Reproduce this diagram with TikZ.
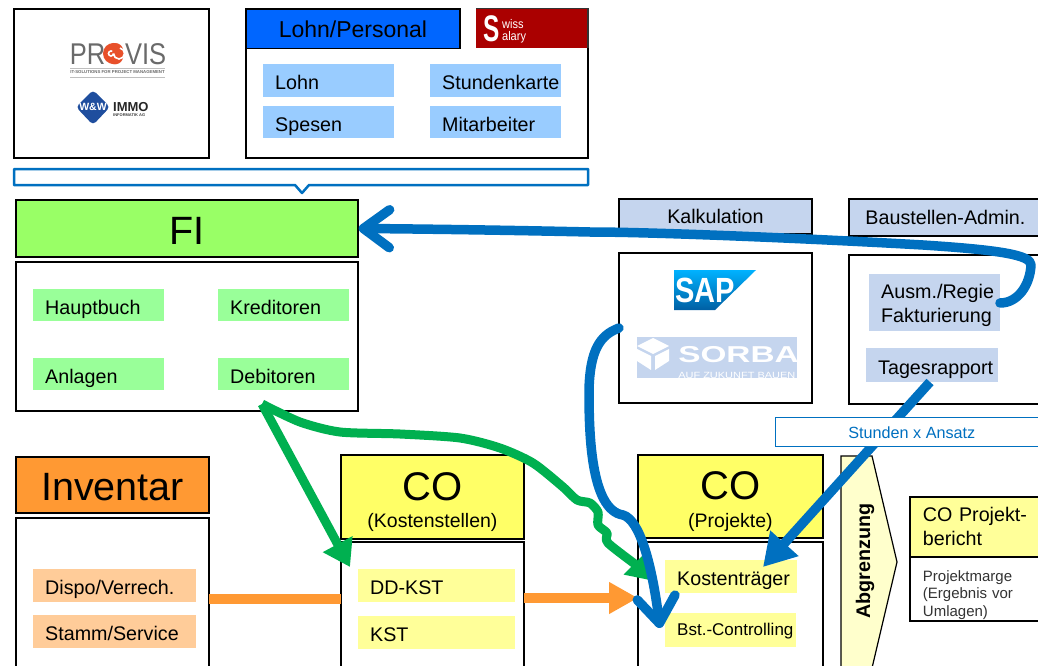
\documentclass[tikz,border=0pt]{standalone}
\usepackage{fontspec}
\setmainfont{Liberation Sans}
\usetikzlibrary{arrows.meta,shapes.geometric}
\definecolor{hdrblue}{HTML}{0066FF}
\definecolor{swissred}{HTML}{AA0000}
\definecolor{itemblue}{HTML}{99CCFF}
\definecolor{flow}{HTML}{0070C0}
\definecolor{figreen}{HTML}{99FF66}
\definecolor{itemgreen}{HTML}{99FF99}
\definecolor{paleblue}{HTML}{C5D5EE}
\definecolor{invorange}{HTML}{FF9933}
\definecolor{itemorange}{HTML}{FFCC99}
\definecolor{coyellow}{HTML}{FFFF66}
\definecolor{itemyellow}{HTML}{FFFF99}
\definecolor{paleyellow}{HTML}{FFFFCC}
\definecolor{flowgreen}{HTML}{00B050}
\definecolor{logogrey}{HTML}{6A6A6A}
\definecolor{logoorange}{HTML}{E8502A}
\definecolor{wwblue}{HTML}{1F4E9E}
\tikzset{
  x=1pt,y=-1pt,
  panel/.style={draw=black,line width=1.5pt,fill=white},
  sized/.style 2 args={anchor=north west,minimum width=#1,minimum height=#2,inner sep=0pt,xshift=-.8pt,yshift=.8pt},
  txt/.style={font=\fontsize{19.7}{24}\selectfont},
  big/.style={font=\fontsize{39.5}{44}\selectfont,text height=31.5pt,text depth=0pt},
  item/.style 2 args={anchor=north west,minimum height=#2,minimum width=#1,text width=#1-24,inner xsep=12pt,inner ysep=0pt,align=left,text height=18pt,text depth=0pt,font=\fontsize{19.7}{24}\selectfont},
  flowline/.style={draw=flow,line width=9.5pt,line cap=round,line join=round},
  vhead/.style={-{Straight Barb[length=26pt,width=38pt,round]}},
  greenline/.style={draw=flowgreen,line width=9pt,line join=round},
  ghead/.style={-{Triangle[length=26pt,width=32pt]}},
  orangeline/.style={draw=invorange,line width=10pt},
}
\begin{document}
\begin{tikzpicture}
\useasboundingbox (0,0) rectangle (1038,666);
\clip (0,0) rectangle (1038,666);

% logo panel
\node[panel,sized={195}{149}] (logos) at (14,9) {};
\fill[logoorange] (113.5,53.5) circle (10.5);
\node[font=\fontsize{30}{32}\selectfont,text=logogrey,xscale=.85,inner sep=0pt] (provis) at (118,54) {PR{\color{logoorange}O}VIS};
\draw[white,line width=1.6pt] (113.5,53.5) arc (0:300:2.5) (113.5,53.5) arc (180:-80:5.5);
\draw[lightgray,line width=.6pt] (70,68) -- (165,68) (70,77) -- (165,77);
\node[font=\fontsize{4.3}{5}\selectfont\bfseries,text=logogrey,inner sep=0pt] (tagline) at (117.5,72.5) {IT-SOLUTIONS FOR PROJECT MANAGEMENT};
\fill[wwblue,rounded corners=4pt] (93,90) -- (110,107) -- (93,125) -- (76,107) -- cycle;
\node[font=\fontsize{10.5}{12}\selectfont\bfseries,text=white,inner sep=0pt] (ww) at (93,107) {W\&W};
\node[font=\fontsize{13}{14}\selectfont\bfseries,anchor=west,inner sep=0pt,text=black!85] (immo) at (113,107) {IMMO};
\node[font=\fontsize{4}{5}\selectfont\bfseries,anchor=west,inner sep=0pt,text=black!75] (inf) at (113,115.5) {INFORMATIK AG};

% Lohn / Personal
\node[panel,sized={342}{149}] (lohnbox) at (246,9) {};
\node[draw=black,line width=1.5pt,fill=hdrblue,sized={214}{39},font=\fontsize{23}{26}\selectfont] (lohnhdr) at (246,9.5) {Lohn/Personal};
\fill[white] (461,8) rectangle (476,47);
\fill[swissred] (476,9) rectangle (588,48);
\draw[black!80,line width=1.2pt] (476,8.6) -- (588,8.6) -- (588,48);
\node[font=\fontsize{37}{38}\selectfont\bfseries,text=white,xscale=.66,inner sep=0pt] (swisss) at (492,29) {S};
\node[font=\fontsize{12.5}{13}\selectfont,text=white,anchor=west,inner sep=0pt,xscale=.88] (wiss) at (502,24) {wiss};
\node[font=\fontsize{12.5}{13}\selectfont,text=white,anchor=west,inner sep=0pt,xscale=.88] (alary) at (502,37.5) {alary};
\node[item={131}{33},fill=itemblue] (lohn) at (263,64) {Lohn};
\node[item={131}{32},fill=itemblue] (spesen) at (263,106) {Spesen};
\node[item={131}{33},fill=itemblue] (stunden) at (430,64) {Stundenkarte};
\node[item={131}{32},fill=itemblue] (mitarb) at (430,106) {Mitarbeiter};

% callout
\draw[flow,line width=2.5pt,line join=round,fill=white] (14,169) -- (588,169) -- (588,185) -- (309,185) -- (302,193) -- (295,185) -- (14,185) -- cycle;

% FI
\node[draw=black,line width=1.5pt,fill=figreen,sized={342}{57},big] (fi) at (16,200) {FI};
\node[panel,sized={342}{149}] (fibox) at (16,262) {};
\node[item={131}{32},fill=itemgreen] (haupt) at (33,289) {Hauptbuch};
\node[item={131}{32},fill=itemgreen] (kred) at (218,289) {Kreditoren};
\node[item={131}{32},fill=itemgreen] (anl) at (33,358) {Anlagen};
\node[item={131}{32},fill=itemgreen] (deb) at (218,358) {Debitoren};

% Kalkulation
\node[draw=black,line width=1.5pt,fill=paleblue,sized={193}{35},txt] (kalk) at (619,199) {Kalkulation};
\node[panel,sized={193}{150}] (kalkbox) at (619,253) {};
\shade[top color=cyan!70!blue,bottom color=flow!85!black] (674,270) -- (756,270) -- (715,310) -- (674,310) -- cycle;
\node[font=\fontsize{35}{36}\selectfont\bfseries,text=white,inner sep=0pt,xscale=.83] (sap) at (705,290) {SAP};
\fill[paleblue] (637,337) rectangle (797,378);
\fill[white] (653,338) -- (669,346) -- (653,354) -- (637,346) -- cycle;
\fill[white] (637,349) -- (651,356) -- (651,370) -- (637,361) -- cycle;
\fill[white] (655,356) -- (669,349) -- (669,361) -- (655,370) -- cycle;
\node[font=\fontsize{23}{24}\selectfont\bfseries,text=white,anchor=west,inner sep=0pt,xscale=1.45] (sorba) at (678,355) {SORBA};
\node[font=\fontsize{9}{10}\selectfont,text=white,anchor=west,inner sep=0pt,xscale=1.22] (auf) at (678,375) {AUF ZUKUNFT BAUEN};

% Baustellen-Admin
\node[draw=black,line width=1.5pt,fill=paleblue,sized={196}{37},txt,text width=175,inner xsep=10.5pt,align=left] (baust) at (849,199) {\hspace*{6pt}Baustellen-Admin.};
\node[panel,sized={196}{149}] (baustbox) at (849,255) {};
\node[item={131}{57},fill=paleblue,text height=14pt,text depth=22pt] (ausm) at (869,274) {Ausm./Regie\\Fakturierung};
\node[item={132}{34},fill=paleblue] (tages) at (866,348) {Tagesrapport};

% Inventar
\node[draw=black,line width=1.5pt,fill=invorange,sized={193}{56},big] (inv) at (16,457) {Inventar};
\node[panel,sized={193}{170}] (invbox) at (16,518) {};
\node[item={163}{33},fill=itemorange] (dispo) at (33,569) {Dispo/Verrech.};
\node[item={163}{33},fill=itemorange] (stamm) at (33,615) {Stamm/Service};

% CO Kostenstellen
\node[draw=black,line width=1.5pt,fill=coyellow,sized={183}{84},align=center] (cok) at (341,455) {\fontsize{40}{40}\selectfont\rule{0pt}{38pt}CO\\[12pt]\fontsize{19.5}{22}\selectfont (Kostenstellen)};
\node[panel,sized={183}{150}] (cokbox) at (341,542) {};
\node[item={157}{33},fill=itemyellow] (ddkst) at (358,569) {DD-KST};
\node[item={157}{33},fill=itemyellow] (kst) at (358,616) {KST};

% CO Projekte
\node[draw=black,line width=1.5pt,fill=coyellow,sized={185}{83},align=center] (cop) at (638,455) {\fontsize{40}{40}\selectfont\rule{0pt}{38pt}CO\\[12pt]\fontsize{19.5}{22}\selectfont (Projekte)};
\node[panel,sized={185}{150}] (copbox) at (638,542) {};
\node[item={132}{33},fill=itemyellow] (ktr) at (665,560) {Kostenträger};
\node[item={131}{34},fill=itemyellow,font=\fontsize{17}{20}\selectfont,text height=10pt] (bst) at (665,613) {\mbox{Bst.-Controlling}};

% Abgrenzung
\draw[black,line width=1.2pt,fill=paleyellow] (841,456) -- (872,456) -- (897,562) -- (872,668) -- (841,668) -- cycle;
\node[rotate=90,font=\fontsize{19.7}{22}\selectfont\bfseries,inner sep=0pt] (abgr) at (865,561) {Abgrenzung};

% Projektbericht
\node[draw=black,line width=1.5pt,fill=itemyellow,anchor=north west,minimum width=135,minimum height=60,text width=121,inner xsep=13pt,inner ysep=0pt,align=left,txt,xshift=-.8pt,yshift=.8pt] (ber) at (910,497) {CO Projekt-\\bericht};
\node[draw=black,line width=1.5pt,fill=white,anchor=north west,minimum width=135,minimum height=64,text width=121,inner xsep=13pt,inner ysep=0pt,align=left,font=\fontsize{15}{17.8}\selectfont,text=black!80,xshift=-.8pt,yshift=.8pt] (marge) at (910,557) {\rule{0pt}{23pt}Projektmarge\\(Ergebnis vor\\Umlagen)};

% connector end points
\coordinate (debout) at (262,404);
\coordinate (ddin) at (350,567);
\coordinate (ktin) at (654,581);
\coordinate (invout) at (209,599);
\coordinate (cokin) at (341,599);
\coordinate (cokout) at (524,598);
\coordinate (copin) at (638,598);
\coordinate (ausmout) at (1000,303);
\coordinate (kalkout) at (619,328);
\coordinate (bstin) at (660,628);
\coordinate (tagout) at (930,382);
\coordinate (ktrin) at (763,567);

% connectors
\draw[orangeline] (invout) -- (cokin);
\draw[orangeline,-{Triangle[length=29pt,width=30pt]}] (cokout) -- (copin);
\draw[greenline,ghead] (debout) -- (ddin);
\draw[greenline,ghead] plot[smooth,tension=.45] coordinates {(debout) (300,422) (340,432) (400,434) (460,438) (500,448) (533,463) (563,487) (577,500) (590,503) (598,512) (598,525) (607,533) (608,543) (640,568) (ktin)};
\draw[flowline,vhead] (kalkout) .. controls (600,335) and (590,350) .. (589,390) .. controls (589,430) and (590,510) .. (623,515) .. controls (640,520) and (652,565) .. (bstin);
\draw[flowline,vhead] (ausmout) .. controls (1018,303) and (1030,285) .. (1031,265) .. controls (1031,255) and (1000,250) .. (923,245) .. controls (800,238) and (650,232) .. (590,232) .. controls (500,230) and (420,229) .. (fi.east);
\draw[flowline,line cap=butt,-{Triangle[length=32pt,width=36pt]}] (tagout) -- (ktrin);

% Stunden x Ansatz sits above the connector
\node[draw=flow,line width=1.2pt,fill=white,sized={269}{29},text=flow,font=\fontsize{16.2}{18}\selectfont] (ansatz) at (776,418) {\hspace*{3pt}Stunden x Ansatz};
\end{tikzpicture}
\end{document}
